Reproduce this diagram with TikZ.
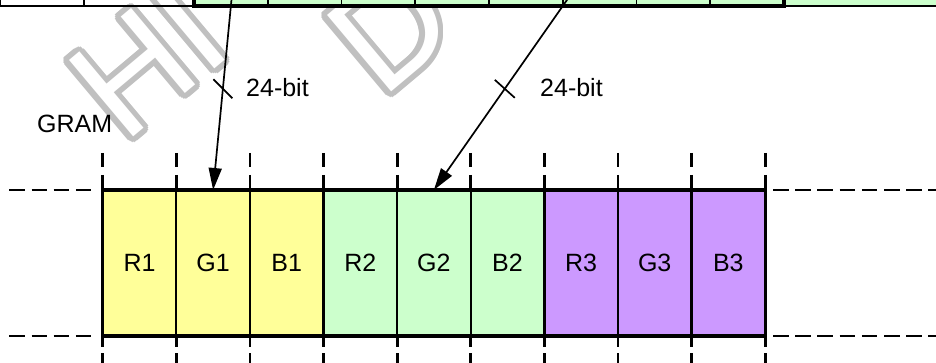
\documentclass[tikz,border=0pt]{standalone}
\usepackage{fontspec}
\setmainfont{Liberation Sans}
\usetikzlibrary{arrows.meta,calc}
\definecolor{cgreen}{HTML}{CCFFCC}
\definecolor{cyellow}{HTML}{FFFF99}
\definecolor{cpurple}{HTML}{CC99FF}
\definecolor{wmgray}{HTML}{C0C0C0}
\tikzset{
  lbl/.style={font=\fontsize{25}{30}\selectfont, inner sep=0pt},
  cell/.style={draw, line width=2.1pt, minimum width=73.6pt, minimum height=146pt, inner sep=0pt, outer sep=0pt, lbl},
  tcell/.style={draw, line width=1.7pt, minimum height=30pt, inner sep=0pt, outer sep=0pt, fill=cgreen, minimum width=73.75pt},
  wcell/.style={draw, line width=1.7pt, minimum height=30pt, inner sep=0pt, outer sep=0pt},
  grp/.style={line width=3.2pt},
  hdash/.style={line width=2.8pt, dash pattern=on 15.5pt off 6.7pt},
  vdash/.style={line width=2.8pt, dash pattern=on 14pt off 8pt},
  vdashb/.style={line width=2.8pt, dash pattern=on 11pt off 6pt},
  arr/.style={line width=1.7pt, shorten <=-10pt, -{Triangle[length=22pt,width=13pt]}},
  tickln/.style={line width=1.7pt},
  wm/.style={font=\fontsize{145}{145}\selectfont, rotate=40, anchor=base west, inner sep=0pt},
}
\begin{document}
\begin{tikzpicture}[x=1pt,y=-1pt]
\useasboundingbox (0,0) rectangle (936,363);
\clip (0,0) rectangle (936,363);
% watermark
\foreach \a in {0,20,...,340} {
  \node[wm, text=wmgray] (wmh\a) at ($(124,145)+(\a:5.5pt)$) {HI};
  \node[wm, text=wmgray] (wmd\a) at ($(382,100)+(\a:5.5pt)$) {D};
}
\node[wm, text=white] (wmh) at (124,145) {HI};
\node[wm, text=white] (wmd) at (382,100) {D};
% top row
\node[wcell, minimum width=84pt] (tw0) at (42,-9) {};
\node[wcell, minimum width=110pt] (tw1) at (139,-9) {};
\foreach \i in {0,...,7} {
  \node[tcell] (t\i) at (230.875+73.75*\i,-9) {};
}
\node[tcell, minimum width=160pt] (tr) at (864,-9) {};
\draw[grp] (t0.north west) rectangle (t7.south east);
% dashed guides
\draw[hdash] (9.3,190) -- (92,190);
\draw[hdash] (9.3,336) -- (92,336);
\draw[hdash] (773,190) -- (940,190);
\draw[hdash] (773,336) -- (940,336);
\foreach \i in {0,...,9} {
  \draw[vdash] (102.7+73.6*\i,153) -- (102.7+73.6*\i,190);
  \draw[vdashb] (102.7+73.6*\i,336) -- (102.7+73.6*\i,365);
}
% GRAM cells
\foreach \lab/\col [count=\i from 0] in {R1/cyellow,G1/cyellow,B1/cyellow,R2/cgreen,G2/cgreen,B2/cgreen,R3/cpurple,G3/cpurple,B3/cpurple} {
  \node[cell, fill=\col] (c\i) at (139.5+73.6*\i,263) {\lab};
}
\draw[grp] (c0.north west) rectangle (c2.south east);
\draw[grp] (c3.north west) rectangle (c5.south east);
\draw[grp] (c6.north west) rectangle (c8.south east);
% arrows
\draw[arr] (t0.south) -- coordinate[pos=0.45] (k1) (c1.north);
\draw[arr] (t4.south east) -- coordinate[pos=0.45] (k2) (c4.north);
\draw[tickln] ($(k1)+(-9.5,-9.5)$) -- ($(k1)+(9.5,9.5)$);
\draw[tickln] ($(k2)+(-10,-9)$) -- ($(k2)+(10,9)$);
% labels
\node[lbl, anchor=base west] (b1) at (246,97) {24-bit};
\node[lbl, anchor=base west] (b2) at (540,97) {24-bit};
\node[lbl, anchor=base west] (gram) at (37,133) {GRAM};
\end{tikzpicture}
\end{document}
